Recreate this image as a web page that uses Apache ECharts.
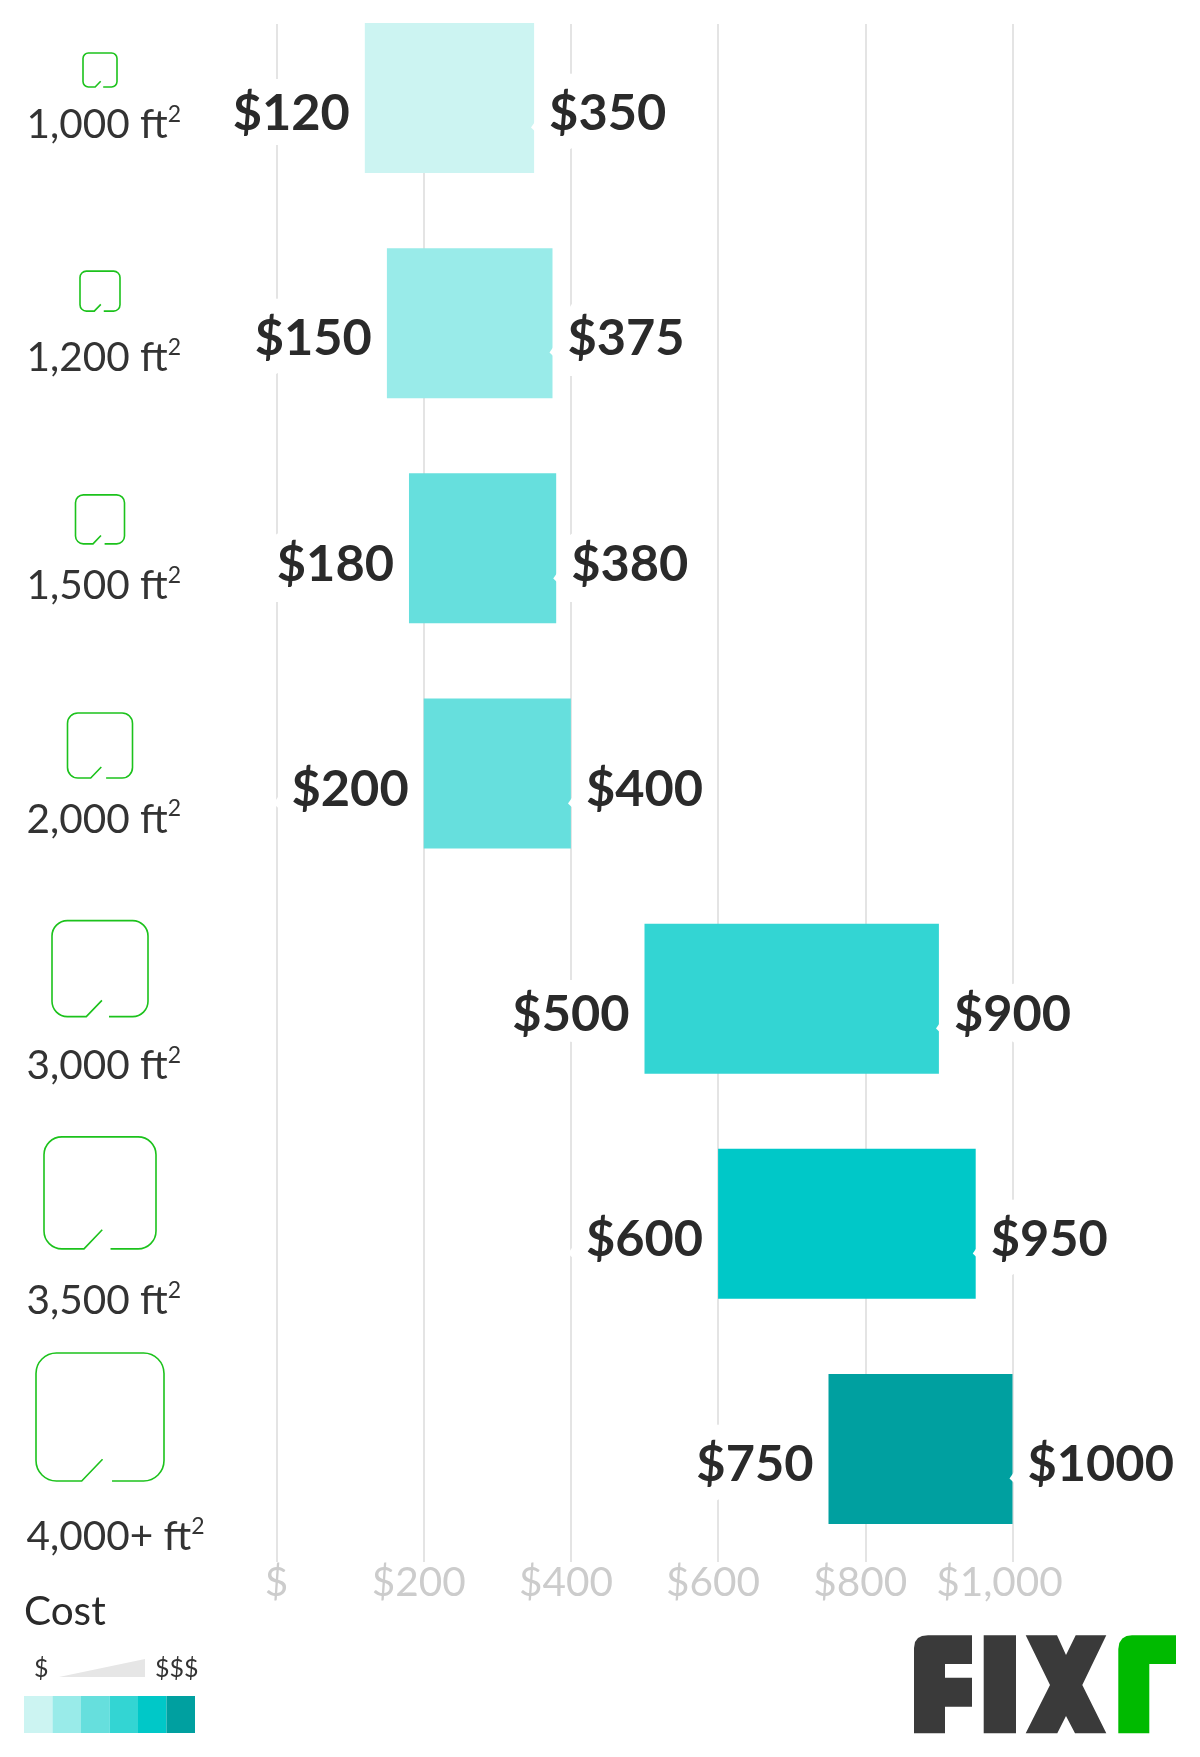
<!DOCTYPE html>
<html><head><meta charset="utf-8">
<style>html,body{margin:0;padding:0;background:#fff}#c{width:1200px;height:1757px}</style>
<script src="https://cdn.jsdelivr.net/npm/echarts@6/dist/echarts.min.js"></script>
</head><body><div id="c"></div>
<script>
const categories = ['1,000 ft','1,200 ft','1,500 ft','2,000 ft','3,000 ft','3,500 ft','4,000+ ft'];
const lowCosts  = [120,150,180,200,500,600,750];
const highCosts = [350,375,380,400,900,950,1000];
const highLabels = ['$350','$375','$380','$400','$900','$950','$1000'];
const barColors = ['#ccf4f2','#99ebe9','#66dfdd','#66dfdd','#33d5d3','#00c8c8','#00a0a0'];
const tickValues = ['$','$200','$400','$600','$800','$1,000'];
const legendColors = ['#ccf4f2','#99ebe9','#66dfdd','#33d5d3','#00c8c8','#00a0a0'];

// layout only
const iconSize = [34,40,49,65,96,112,128];
const iconDy   = [-28,-32,-29,-28,-30,-31,-32];
const labelDy  = [27,35,38,46,67,77,88];
const FONT='Lato';
const iconPath='M59.4 100L84 100A16 16 0 0 0 100 84L100 16A16 16 0 0 0 84 0L16 0A16 16 0 0 0 0 16L0 84A16 16 0 0 0 16 100L35.7 100L52 83';

const chart = echarts.init(document.getElementById('c'),null,{renderer:'canvas'});
const valueLabel={show:true,color:'#2a2a2a',fontFamily:FONT,fontWeight:'bold',fontSize:50.5,textBorderColor:'#fff',textBorderWidth:30,distance:15,offset:[0,16]};
function rect(x,y,w,h,fill){return {type:'rect',shape:{x,y,width:w,height:h},style:{fill},silent:true};}
function txt(x,y,t,size,fill){return {type:'text',x,y,style:{text:t,font:size+'px '+FONT,fill,verticalAlign:'middle'},silent:true};}
function poly(points,fill){return {type:'polygon',shape:{points},style:{fill},silent:true};}
const LOGO_DARK='#3a3a3a', LOGO_GREEN='#00ba00';
const graphicEls=[
  txt(24,1612,'Cost',40.5,'#2a2a2a'),
  txt(34,1669,'$',25,'#333'),
  txt(155,1669,'$$$',25,'#333'),
  poly([[59,1677],[145,1659],[145,1677]],'#e6e6e6'),
  ...legendColors.map((c,i)=>rect(24+i*28.5,1696,28.5,37,c)),
  poly([[914,1733.3],[914,1648],[915,1642],[918,1638],[922,1636],[928,1635.3],[972,1635.3],[972,1664],[945,1664],[945,1677.7],[972,1677.7],[972,1706.7],[945,1706.7],[945,1733.3]],LOGO_DARK),
  rect(983.7,1635.3,32.3,98,LOGO_DARK),
  poly([[1025.7,1635.3],[1057,1635.3],[1066,1655],[1075.7,1635.3],[1106.3,1635.3],[1082.3,1685],[1106.3,1733.3],[1075,1733.3],[1066,1716],[1057.3,1733.3],[1025.7,1733.3],[1050,1685]],LOGO_DARK),
  poly([[1118.3,1733.3],[1118.3,1649],[1119.3,1643],[1122.3,1638.5],[1126.5,1636],[1132,1635.3],[1176,1635.3],[1176,1664],[1149.3,1664],[1149.3,1733.3]],LOGO_GREEN)
];
const catRich={m:{fontSize:40.5,lineHeight:44,color:'#333',fontFamily:FONT},s:{fontSize:23,lineHeight:24,color:'#333',fontFamily:FONT,verticalAlign:'top'}};
labelDy.forEach((d,i)=>{catRich['g'+i]={height:2*d,lineHeight:2*d,fontSize:1};});
chart.setOption({
  animation:false,
  backgroundColor:'#fff',
  textStyle:{fontFamily:FONT},
  grid:[
    {left:276.5,width:736,top:-14.6,height:1576.2,containLabel:false,outerBoundsMode:'none'},
    {left:276.5,width:736,top:24,height:1538,containLabel:false,outerBoundsMode:'none'}
  ],
  xAxis:[
    {gridIndex:0,type:'value',min:0,max:1000,interval:200,show:false},
    {gridIndex:1,type:'value',min:0,max:1000,interval:200,
      axisLine:{show:false},axisTick:{show:false},
      splitLine:{show:true,lineStyle:{color:'#e4e4e4',width:2}},
      axisLabel:{margin:0,color:'#cccccc',fontFamily:FONT,fontSize:40.5,hideOverlap:false,showMinLabel:true,showMaxLabel:true,
        formatter:(v,i)=>{const k=v===0?'p0':(v===1000?'p2':'p1');return '{'+k+'|'+tickValues[i]+'}';},
        rich:{p0:{},p1:{padding:[0,10,0,0]},p2:{padding:[0,26,0,0]}}}}
  ],
  yAxis:[
    {gridIndex:0,type:'category',inverse:true,data:categories,
      axisLine:{show:false},axisTick:{show:false},splitLine:{show:false},
      axisLabel:{interval:0,align:'left',margin:250,color:'#333',fontFamily:FONT,fontSize:40.5,
        formatter:(v,i)=>'{g'+i+'| }\n{m|'+v+'}{s|2}',rich:catRich}},
    {gridIndex:1,type:'category',data:[''],show:false}
  ],
  series:[
    {type:'bar',name:'low',xAxisIndex:0,yAxisIndex:0,stack:'r',barWidth:150,data:lowCosts,itemStyle:{color:'transparent'},z:3,
      label:Object.assign({},valueLabel,{position:'insideRight',formatter:p=>'$'+lowCosts[p.dataIndex]})},
    {type:'bar',name:'range',xAxisIndex:0,yAxisIndex:0,stack:'r',barWidth:150,
      data:highCosts.map((h,i)=>({value:h-lowCosts[i],itemStyle:{color:barColors[i]}})),z:2,
      label:Object.assign({},valueLabel,{position:'right',formatter:p=>highLabels[p.dataIndex]})},
    {type:'custom',name:'icons',xAxisIndex:0,yAxisIndex:0,silent:true,z:4,
      data:categories.map((c,i)=>[0,i]),encode:{x:0,y:1},
      renderItem:(params,api)=>{
        const i=api.value(1), p=api.coord([0,i]), s=iconSize[i];
        const cx=100, cy=p[1]+iconDy[i]-(s/2);
        return {type:'path',shape:{pathData:iconPath,x:cx-s/2,y:cy,width:s,height:s,layout:'center'},
          style:{fill:'none',stroke:'#1cc21c',lineWidth:1.6}};
      }}
  ],
  graphic:{elements:graphicEls}
});
</script></body></html>
